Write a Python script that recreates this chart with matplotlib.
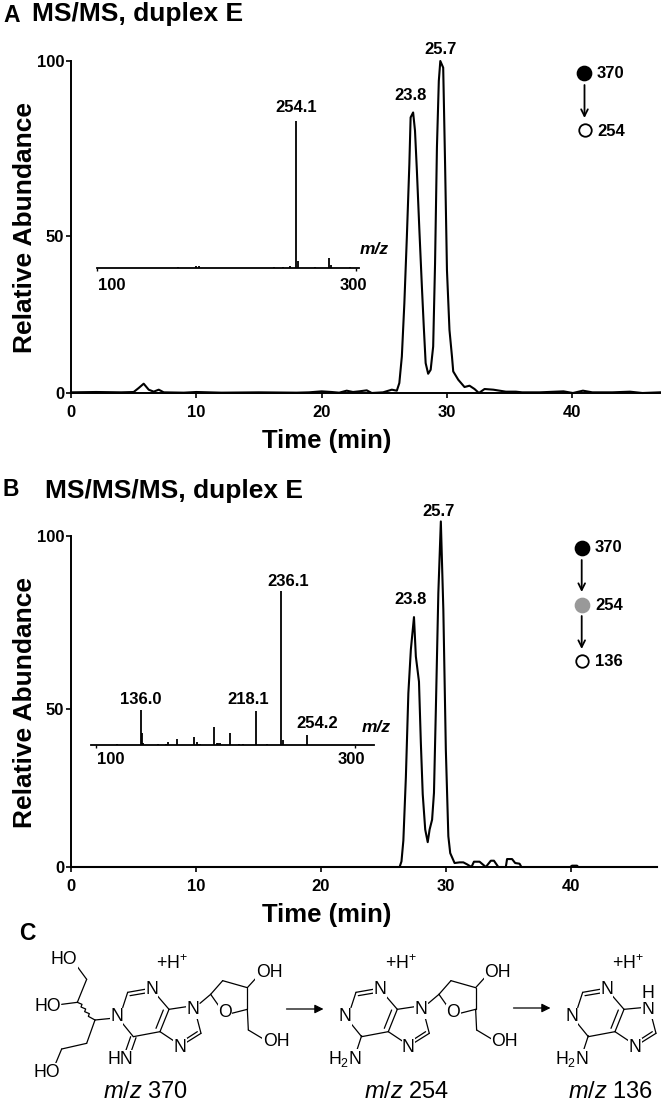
import matplotlib
matplotlib.use('Agg')
import matplotlib.pyplot as plt

plt.rcParams['font.family'] = ['Liberation Sans', 'DejaVu Sans']
plt.rcParams['mathtext.fontset'] = 'custom'
plt.rcParams['mathtext.rm'] = 'Liberation Sans'
plt.rcParams['mathtext.it'] = 'Liberation Sans:italic'

W, H = 661, 1102

# Chromatogram A
time_a = [0, 2, 4, 5, 5.4, 5.8, 6.2, 6.6, 7, 7.4, 9, 10, 12, 15, 18, 19, 20, 20.8, 21.4, 22, 22.5,
          23, 23.6, 24, 24.9, 25.6, 26, 26.2, 26.4, 26.6, 26.8, 27, 27.1, 27.3, 27.45, 27.6, 27.8,
          28, 28.15, 28.3, 28.5, 28.7, 28.9, 29.05, 29.2, 29.35, 29.47, 29.7, 29.85, 30, 30.2,
          30.4, 30.5, 30.9, 31.4, 31.8, 32.2, 32.55, 33, 33.7, 34.7, 35.5, 36, 37.4, 39.3, 40.05,
          40.85, 41.6, 43.2, 44.6, 45.6, 47]
abund_a = [0.2, 0.3, 0.2, 0.3, 1.5, 2.8, 1, 0.4, 1, 0.2, 0.1, 0.3, 0.1, 0.2, 0.1, 0.2, 0.5, 0.3, 0.1, 0.7, 0.3,
           0.5, 0.8, 0, 0.2, 1, 0.7, 3, 11, 27, 47, 69, 83, 84.5, 79, 67, 49,
           32, 20, 9, 5.8, 7, 14, 39, 74, 94, 100, 98, 69, 37, 19,
           11, 6.5, 4, 1.8, 2.2, 1.2, 0, 1.2, 1, 0.4, 0.4, 0.2, 0.2, 0.5, 0,
           0.7, 0.2, 0.2, 0.4, 0, 0.2]

# Chromatogram B
time_b = [0, 26.3, 26.45, 26.6, 26.8, 27, 27.2, 27.45, 27.6, 27.85, 28, 28.15, 28.35, 28.55, 28.7,
          28.9, 29.05, 29.2, 29.4, 29.6, 29.8, 30, 30.2, 30.35, 30.7, 31.1, 31.4, 31.7, 32.05,
          32.25, 32.7, 33.2, 33.6, 33.85, 34.2, 34.8, 34.9, 35.3, 35.55, 35.9, 36.05, 39.95,
          40.1, 40.5, 40.6, 46.9]
abund_b = [0, 0, 1.7, 8, 27, 52.5, 65.7, 75.5, 63.6, 56, 37.5, 22, 11.3, 7.5, 11.3,
           14.3, 22.4, 47.5, 82.8, 104.4, 77.7, 35.4, 9.3, 4.2, 1.2, 1.4, 1.4, 0.8, 0,
           1.6, 1.6, 0, 1.9, 1.9, 0, 0, 2.4, 2.4, 1.2, 1, 0, 0,
           0.4, 0.4, 0, 0]

# Insets (m/z, height in % of base peak)
mz_a = [162.8, 176.4, 178.8, 236.7, 243.4, 249, 253.9, 255, 268.3, 278.9, 281, 295.4]
int_a = [0.5, 1.1, 1.1, 0.7, 0.7, 1.1, 100, 4.5, 0.5, 7, 2, 0.5]
mz_b = [116, 134.7, 135.8, 136.6, 148.1, 154.1, 155.4, 162.8, 175.7, 177.8, 179, 180.3, 190.9,
        193.2, 194.4, 195.8, 203.7, 210.4, 213.3, 223.3, 231.8, 242.9, 244.2, 262.7]
int_b = [0.7, 22.6, 7.8, 1.1, 0.4, 0.9, 1.7, 3.7, 5, 2.2, 0.9, 0.4, 11.4,
         1.1, 1.1, 1.1, 8, 0.7, 0.4, 22.4, 0.7, 100, 3.4, 6.5]

time_ticks = [0, 10, 20, 30, 40]
# the 50 tick is not halfway between 0 and 100 in the figure
abund_ticks_a = [0, 47.3, 100]
abund_ticks_b = [0, 47.6, 100]
abund_labels = ['0', '50', '100']


def px_axes(left, top, right, bottom):
    return fig.add_axes([left / W, 1 - bottom / H, (right - left) / W, (bottom - top) / H])


def main_panel(rect, t, a, xmax, yticks):
    left, top, right, bottom = rect
    ax = px_axes(*rect)
    ax.plot(t, a, color='black', lw=1.5, clip_on=False, zorder=3)
    ax.set_xlim(0, xmax)
    ax.set_ylim(0, 100)
    ax.set_xticks(time_ticks)
    ax.set_yticks(yticks)
    ax.set_yticklabels(abund_labels)
    ax.spines['top'].set_visible(False)
    ax.spines['right'].set_visible(False)
    ax.spines['left'].set_linewidth(1.4)
    ax.spines['bottom'].set_linewidth(1.4)
    ax.tick_params(width=1.2, length=3.5, labelsize=12)
    ax.tick_params(axis='x', pad=5)
    ax.tick_params(axis='y', pad=1.5)
    for lab in ax.get_xticklabels() + ax.get_yticklabels():
        lab.set_fontweight('bold')
    ax.set_xlabel('Time (min)', fontsize=18.5, fontweight='bold')
    ax.set_ylabel('Relative Abundance', fontsize=19, fontweight='bold')
    w, h = right - left, bottom - top
    ax.xaxis.set_label_coords((327 - left) / w, -36 / h)
    ax.yaxis.set_label_coords((37 - left) / w, 0.497)
    return ax


def inset_panel(rect, mz, inten, xlim):
    ax = px_axes(*rect)
    ax.vlines(mz, 0, inten, color='black', lw=1.3)
    ax.set_xlim(*xlim)
    ax.set_ylim(0, 100)
    ax.set_xticks([100, 300])
    ax.set_xticklabels([])
    ax.set_yticks([])
    ax.patch.set_visible(False)
    for s in ['top', 'right', 'left']:
        ax.spines[s].set_visible(False)
    ax.spines['bottom'].set_linewidth(1.3)
    ax.tick_params(width=1, length=2)
    return ax


fig = plt.figure(figsize=(W / 100, H / 100), dpi=100)

main_panel((71, 61, 660, 393), time_a, abund_a, 47, abund_ticks_a)
main_panel((71, 536, 657, 867), time_b, abund_b, 46.9, abund_ticks_b)
inset_panel((97, 121, 359, 268), mz_a, int_a, (100, 302.3))
inset_panel((91, 591, 374, 745), mz_b, int_b, (96.1, 314.7))

# overlay in pixel coordinates for labels, legends and the panel C drawing
ov = fig.add_axes([0, 0, 1, 1])
ov.set_xlim(0, W)
ov.set_ylim(H, 0)
ov.axis('off')
ov.patch.set_visible(False)


def txt(x, y, s, size=12, weight='bold', ha='center', **kw):
    ov.text(x, y, s, fontsize=size, fontweight=weight, ha=ha, va='center', **kw)


def arrow(x0, y0, x1, y1, style='->', lw=1.3, scale=12):
    ov.annotate('', xy=(x1, y1), xytext=(x0, y0),
                arrowprops=dict(arrowstyle=style, lw=lw, color='black', mutation_scale=scale,
                                shrinkA=0, shrinkB=0))


def circle(x, y, face):
    ov.plot([x], [y], 'o', ms=10 if face != 'white' else 9, mfc=face,
            mec='black' if face != '#999999' else face, mew=1.3)


# panel titles
txt(3, 15, 'A', 16.5, ha='left')
txt(32, 14, 'MS/MS, duplex E', 19, ha='left')
txt(3, 490, 'B', 16.5, ha='left')
txt(45, 491, 'MS/MS/MS, duplex E', 19, ha='left')
txt(19, 934, 'C', 16.5, ha='left')

# peak labels A
txt(410.7, 95, '23.8')
txt(441, 50, '25.7')
txt(296, 107, '254.1')
txt(374, 250, 'm/z', 12.5, style='italic')
txt(112, 285, '100')
txt(353, 285, '300')

# peak labels B
txt(411, 600, '23.8')
txt(439, 511, '25.7')
txt(141, 700, '136.0')
txt(248, 700, '218.1')
txt(287.7, 581, '236.1')
txt(317, 723, '254.2')
txt(376.7, 728, 'm/z', 12.5, style='italic')
txt(110.7, 759, '100')
txt(351, 759, '300')

# transition legends
circle(584, 73, 'black')
circle(584.5, 130, 'white')
arrow(584.5, 85, 584.5, 118)
txt(597, 73, '370', ha='left')
txt(597, 131, '254', ha='left')

circle(581.7, 547.7, 'black')
circle(581.7, 604.7, '#999999')
circle(581.7, 661, 'white')
arrow(581.7, 560, 581.7, 592)
arrow(581.7, 616, 581.7, 649)
txt(595, 547, '370', ha='left')
txt(595, 606, '254', ha='left')
txt(595, 662, '136', ha='left')

# panel C, structures traced in crop coordinates (3x, crop top at y=915)
purine_bonds = [[(368, 278), (383, 232)], [(470, 240), (507, 283)], [(507, 283), (480, 350)],
                [(480, 350), (400, 365)], [(400, 365), (365, 322)], [(480, 350), (525, 380)],
                [(603, 355), (590, 305)], [(383, 232), (440, 222)], [(555, 385), (603, 355)]]
purine_inner = [[(390, 242), (437, 234)], [(490, 285), (468, 340)], [(558, 372), (592, 350)]]
sugar_bonds = [[(600, 265), (632, 238)], [(632, 238), (668, 197)], [(668, 197), (742, 218)],
               [(742, 218), (742, 283)], [(742, 283), (695, 295)], [(658, 275), (632, 238)],
               [(742, 218), (772, 185)], [(742, 283), (745, 345)], [(745, 345), (790, 372)],
               [(507, 283), (560, 275)]]
chain_bonds = [[(335, 310), (285, 315)], [(232, 262), (185, 268)], [(232, 262), (260, 193)],
               [(260, 193), (232, 155)], [(285, 315), (260, 385)], [(260, 385), (185, 402)],
               [(185, 402), (165, 450)], [(392, 365), (377, 408)], [(408, 368), (393, 411)]]
wavy_bond = [(232, 262), (246, 268), (243, 276), (257, 282), (254, 290), (268, 296), (265, 304), (285, 315)]
amine_bond = [[(400, 362), (385, 408)]]


def bonds(segs, dx=0.0):
    for seg in segs:
        ov.plot([dx + p[0] / 3 for p in seg], [915 + p[1] / 3 for p in seg], color='black', lw=0.9,
                solid_capstyle='round')


def ctext(zx, zy, s, dx=0.0, size=12.7):
    ov.text(dx + zx / 3, 915 + zy / 3, s, fontsize=size, ha='center', va='center',
            bbox=dict(fc='white', ec='none', pad=0.3), zorder=5)


def purine(dx):
    bonds(purine_bonds + purine_inner, dx)
    ctext(455, 222, 'N', dx)
    ctext(540, 397, 'N', dx)


# m/z 370
dx1, dx2, dx3 = 0.0, 228.3, 455.0
purine(dx1)
bonds(sugar_bonds + chain_bonds, dx1)
bonds([wavy_bond], dx1)
ctext(350, 305, 'N')
ctext(578, 285, 'N')
ctext(675, 293, 'O')
ctext(807, 172, 'OH')
ctext(828, 378, 'OH')
ctext(362, 433, 'HN')
ctext(192, 135, 'HO')
ctext(142, 275, 'HO')
ctext(140, 472, 'HO')
ctext(517, 145, '+H$^{+}$')
ctext(437, 532, '$\\mathit{m/z}$ 370', size=17)
arrow(286.5, 1009, 323.5, 1009, style='-|>', lw=0.9, scale=13)

# m/z 254
purine(dx2)
bonds(sugar_bonds, dx2)
bonds(amine_bond, dx2)
ctext(350, 305, 'N', dx2)
ctext(578, 285, 'N', dx2)
ctext(675, 293, 'O', dx2)
ctext(807, 172, 'OH', dx2)
ctext(828, 378, 'OH', dx2)
ctext(350, 433, 'H$_2$N', dx2)
ctext(517, 147, '+H$^{+}$', dx2)
ctext(536, 532, '$\\mathit{m/z}$ 254', dx2, size=17)
arrow(513.5, 1008, 550.5, 1008, style='-|>', lw=0.9, scale=13)

# m/z 136
purine(dx3)
bonds(amine_bond + [[(507, 283), (560, 278)]], dx3)
ctext(350, 305, 'N', dx3)
ctext(578, 285, 'N', dx3)
ctext(578, 235, 'H', dx3)
ctext(350, 433, 'H$_2$N', dx3)
ctext(518, 147, '+H$^{+}$', dx3)
ctext(468, 532, '$\\mathit{m/z}$ 136', dx3, size=17)

fig.savefig('out.png', dpi=100)
